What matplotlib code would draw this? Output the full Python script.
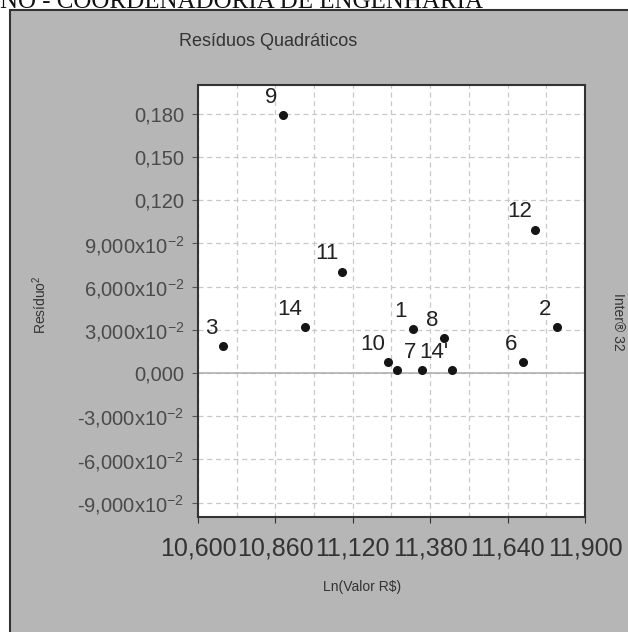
import matplotlib
matplotlib.use("Agg")
import matplotlib.pyplot as plt
from matplotlib.patches import Rectangle

# point labels and values
point_labels = ["9", "3", "14", "11", "12", "1", "8", "2", "10", "", "7", "14'", "6"]
ln_valor = [10.886, 10.684, 10.959, 11.084, 11.732, 11.322, 11.426, 11.806,
            11.238, 11.268, 11.352, 11.453, 11.692]
residuo2 = [0.179, 0.0186, 0.0317, 0.0704, 0.0994, 0.0304, 0.0240, 0.0317,
            0.0076, 0.0020, 0.0020, 0.0020, 0.0076]

x_ticks = [10.60, 10.86, 11.12, 11.38, 11.64, 11.90]
x_tick_labels = ["10,600", "10,860", "11,120", "11,380", "11,640", "11,900"]
y_ticks = [-0.09, -0.06, -0.03, 0.0, 0.03, 0.06, 0.09, 0.12, 0.15, 0.18]
y_tick_labels = [r"-9,000x10$^{-2}$", r"-6,000x10$^{-2}$", r"-3,000x10$^{-2}$", "0,000",
                 r"3,000x10$^{-2}$", r"6,000x10$^{-2}$", r"9,000x10$^{-2}$",
                 "0,120", "0,150", "0,180"]
x_grid = [10.60 + 0.13 * i for i in range(11)]

plt.rcParams["font.family"] = ["Liberation Sans", "DejaVu Sans"]
plt.rcParams["mathtext.fontset"] = "custom"
plt.rcParams["mathtext.rm"] = "Liberation Sans"
plt.rcParams["mathtext.it"] = "Liberation Sans"

fig = plt.figure(figsize=(6.28, 6.32), dpi=100)
fig.patch.set_facecolor("white")

# grey panel behind the chart
fig.patches.append(Rectangle((10 / 628, -0.05), 1.0, 1 - 10 / 632 + 0.05,
                             transform=fig.transFigure, facecolor="#b6b6b6",
                             edgecolor="#333333", linewidth=1.5, zorder=-5))

fig.text(0.0, 1 - 8 / 632, "NO - COORDENADORIA DE ENGENHARIA", fontsize=18,
         family="Liberation Serif", va="baseline", ha="left", color="#111111")

ax = fig.add_axes([198 / 628, 1 - 517 / 632, 387 / 628, 432 / 632])
ax.set_zorder(2)
ax.set_facecolor("white")
ax.set_xlim(10.6, 11.9)
ax.set_ylim(-0.1, 0.2)

for gx in x_grid:
    ax.axvline(gx, color="#c8c8c8", linestyle=(0, (4, 3)), linewidth=0.9, zorder=1)
for gy in y_ticks:
    ax.axhline(gy, color="#c8c8c8", linestyle=(0, (4, 3)), linewidth=0.9, zorder=1)
ax.axhline(0.0, color="#b0b0b0", linewidth=1.2, zorder=1)

ax.plot(ln_valor, residuo2, linestyle="None", marker="o", markersize=5.5,
        color="#151515", zorder=3)
for xv, yv, lab in zip(ln_valor, residuo2, point_labels):
    if lab:
        ax.annotate(lab, (xv, yv), xytext=(-9 - 3 * len(lab), 18),
                    textcoords="offset pixels", ha="center", va="center",
                    fontsize=16, color="#222222", zorder=4)

ax.set_xticks(x_ticks)
ax.set_xticklabels(x_tick_labels, fontsize=18, color="#333333")
ax.set_yticks(y_ticks)
ax.set_yticklabels(y_tick_labels, fontsize=14.5, color="#4a4a4a")
ax.tick_params(axis="x", length=4, pad=10, color="#333333")
ax.tick_params(axis="y", length=4, pad=6, color="#555555")
for sp in ax.spines.values():
    sp.set_color("#333333")
    sp.set_linewidth(1.5)

fig.text(268 / 628, 1 - 42 / 632, "Resíduos Quadráticos", fontsize=13,
         ha="center", va="center", color="#333333")
fig.text(362 / 628, 1 - 587 / 632, r"Ln(Valor R\$)", fontsize=10,
         ha="center", va="center", color="#333333")
fig.text(40 / 628, 1 - 305 / 632, r"Resíduo$^{2}$", fontsize=10, rotation=90,
         ha="center", va="center", color="#333333")
fig.text(618 / 628, 1 - 322 / 632, "Inter® 32", fontsize=10, rotation=270,
         ha="center", va="center", color="#333333")

fig.savefig("out.png", dpi=100)
